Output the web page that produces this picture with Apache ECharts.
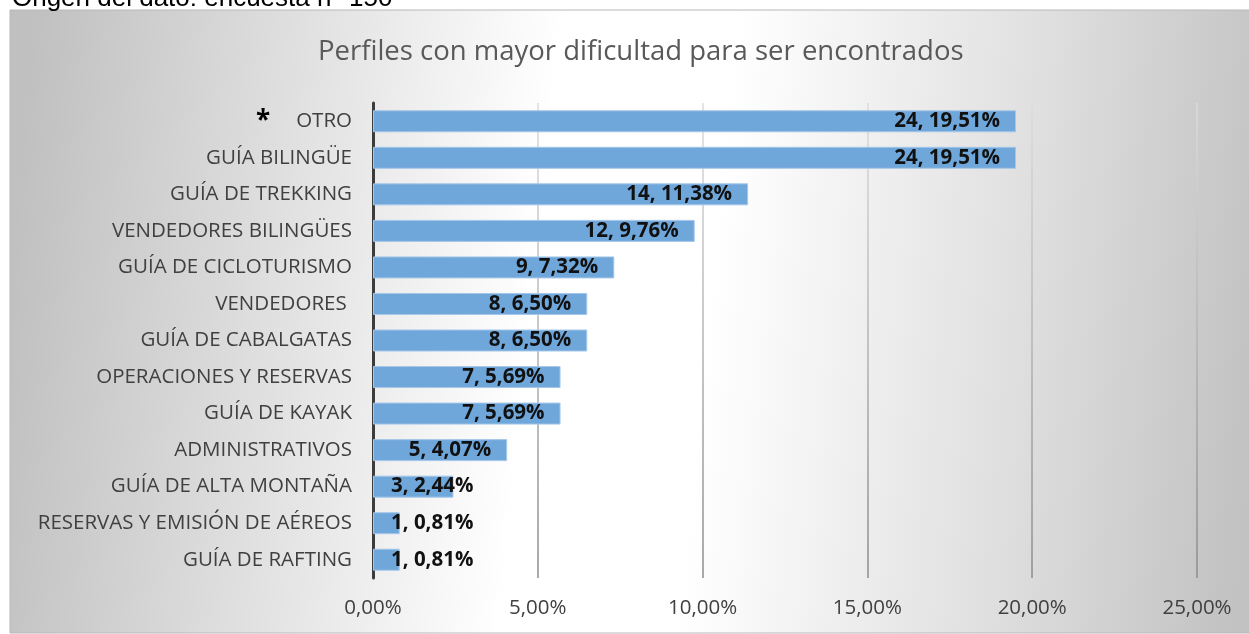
<!DOCTYPE html>
<html>
<head>
<meta charset="utf-8">
<script src="https://cdn.jsdelivr.net/npm/echarts@6/dist/echarts.min.js"></script>
<style>
  html, body { margin: 0; padding: 0; background: #fff; }
  #main { width: 1249px; height: 634px; }
</style>
</head>
<body>
<div id="main"></div>
<script>
// datos
var categories = ['OTRO', 'GUÍA BILINGÜE', 'GUÍA DE TREKKING', 'VENDEDORES BILINGÜES', 'GUÍA DE CICLOTURISMO',
  'VENDEDORES ', 'GUÍA DE CABALGATAS', 'OPERACIONES Y RESERVAS', 'GUÍA DE KAYAK', 'ADMINISTRATIVOS',
  'GUÍA DE ALTA MONTAÑA', 'RESERVAS Y EMISIÓN DE AÉREOS', 'GUÍA DE RAFTING'];
var counts = [24, 24, 14, 12, 9, 8, 8, 7, 7, 5, 3, 1, 1];
var percents = [19.51, 19.51, 11.38, 9.76, 7.32, 6.50, 6.50, 5.69, 5.69, 4.07, 2.44, 0.81, 0.81];
var starred = 'OTRO';
var titleText = 'Perfiles con mayor dificultad para ser encontrados';
var sourceText = 'Origen del dato: encuesta n° 150';

var FONT = 'Open Sans';

function fmtPct(v) {
  return v.toFixed(2).replace('.', ',') + '%';
}

var myChart = echarts.init(document.getElementById('main'));

var barData = percents.map(function (p) {
  // etiquetas que no caben dentro de la barra van desde la base
  if (p < 3) {
    return { value: p, label: { position: 'insideLeft', distance: 18 } };
  }
  return p;
});

option = {
  backgroundColor: '#fff',
  animation: false,
  title: {
    text: titleText,
    left: 313,
    top: 33,
    textStyle: {
      fontFamily: FONT,
      fontSize: 27.5,
      fontWeight: 400,
      color: '#595959'
    }
  },
  graphic: [{
    type: 'rect',
    z: -10,
    shape: { x: 10, y: 10, width: 1245, height: 623 },
    style: {
      fill: {
        type: 'linear', x: 0, y: 0.4, x2: 1, y2: 0.6,
        colorStops: [
          { offset: 0, color: '#c0c0c0' },
          { offset: 0.2, color: '#dedede' },
          { offset: 0.42, color: '#ffffff' },
          { offset: 0.56, color: '#ffffff' },
          { offset: 0.8, color: '#e0e0e0' },
          { offset: 1, color: '#c2c2c2' }
        ]
      },
      stroke: '#b8b8b8',
      lineWidth: 1
    }
  }, {
    type: 'text',
    z: 10,
    left: 12,
    top: -14,
    style: {
      text: sourceText,
      fontFamily: 'Liberation Sans',
      fontSize: 26,
      fill: '#000'
    }
  }],
  grid: {
    left: 373,
    right: 52,
    top: 103,
    bottom: 56
  },
  xAxis: {
    type: 'value',
    min: 0,
    max: 25,
    interval: 5,
    axisLine: { show: false },
    axisTick: { show: false },
    axisLabel: {
      margin: 20,
      fontFamily: FONT,
      fontSize: 20.5,
      color: '#404040',
      formatter: fmtPct
    },
    splitLine: {
      lineStyle: {
        width: 1.5,
        color: {
          type: 'linear', x: 0, y: 103, x2: 0, y2: 578, global: true,
          colorStops: [
            { offset: 0, color: '#dcdcdc' },
            { offset: 1, color: '#8c8c8c' }
          ]
        }
      }
    }
  },
  yAxis: {
    type: 'category',
    inverse: true,
    data: categories,
    axisLine: {
      lineStyle: { color: '#3c3c3c', width: 3 }
    },
    axisTick: { show: false },
    axisLabel: {
      margin: 21,
      fontFamily: FONT,
      fontSize: 20.5,
      color: '#404040',
      formatter: function (v) {
        if (v === starred) return '{s|*}' + v;
        return v;
      },
      rich: {
        s: {
          fontFamily: FONT,
          fontSize: 26,
          fontWeight: 'bold',
          color: '#000',
          padding: [0, 26, 0, 0]
        }
      }
    }
  },
  series: [{
    type: 'bar',
    data: barData,
    barWidth: 22,
    itemStyle: {
      color: '#6fa7db',
      borderColor: '#a6c7e8',
      borderWidth: 1
    },
    label: {
      show: true,
      position: 'insideRight',
      distance: 16,
      fontFamily: FONT,
      fontSize: 20.5,
      fontWeight: 'bold',
      color: '#111',
      formatter: function (p) {
        return counts[p.dataIndex] + ', ' + fmtPct(percents[p.dataIndex]);
      }
    }
  }]
};

myChart.setOption(option);
</script>
</body>
</html>
